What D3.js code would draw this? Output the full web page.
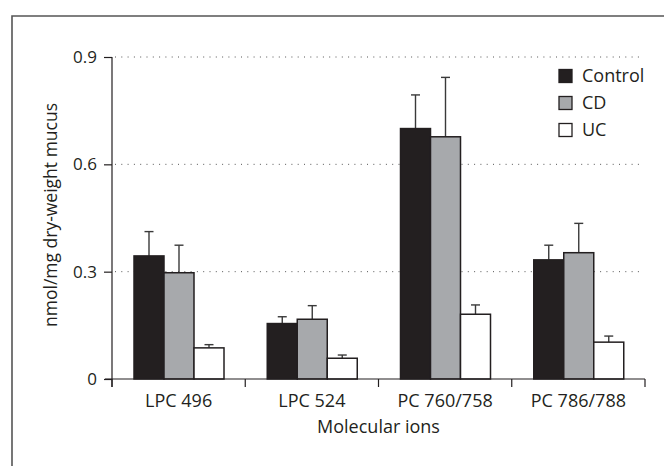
<!DOCTYPE html>
<html>
<head>
<meta charset="utf-8">
<script src="https://cdn.jsdelivr.net/npm/d3@7"></script>
<style>
	body { margin: 0; background: #fff; }
	text { font-family: "Open Sans", sans-serif; fill: #231f20; }
</style>
</head>
<body>
<svg id="chart" width="664" height="466"></svg>
<script>
//Chart data.
var categories = ["LPC 496", "LPC 524", "PC 760/758", "PC 786/788"];
var seriesNames = ["Control", "CD", "UC"];
var controlValues = [0.344, 0.155, 0.700, 0.333];
var controlErrors = [0.068, 0.019, 0.094, 0.041];
var cdValues = [0.297, 0.167, 0.677, 0.353];
var cdErrors = [0.077, 0.038, 0.166, 0.082];
var ucValues = [0.087, 0.058, 0.181, 0.103];
var ucErrors = [0.009, 0.009, 0.026, 0.017];
var yTicks = [0, 0.3, 0.6, 0.9];

var seriesValues = [controlValues, cdValues, ucValues];
var seriesErrors = [controlErrors, cdErrors, ucErrors];
var seriesFill = ["#231f20", "#a7a9ac", "#ffffff"];

var svg = d3.select("#chart");

//Plot area (plotTop, because "top" is taken by window).
var plotLeft = 112, plotRight = 645, plotTop = 57, plotBottom = 379;

var x0 = d3.scaleBand().domain(categories).range([plotLeft, plotRight]);
var x1 = d3.scaleBand().domain(seriesNames).range([22, 112]);
var y = d3.scaleLinear().domain([0, 0.9]).range([plotBottom, plotTop]);

//Outer frame.
svg.append("path")
	.attr("d", "M12,470 L12,16 L670,16")
	.attr("fill", "none")
	.attr("stroke", "#555")
	.attr("stroke-width", 1.6);

//Dotted grid lines.
svg.selectAll(".grid")
	.data(yTicks.filter(function(d){ return d > 0; }))
	.enter()
	.append("line")
	.attr("x1", plotLeft + 3)
	.attr("x2", plotRight - 5)
	.attr("y1", function(d){ return y(d); })
	.attr("y2", function(d){ return y(d); })
	.attr("stroke", "#555")
	.attr("stroke-width", 1)
	.attr("stroke-dasharray", "1,5.3");

//Build flat data for bars.
var bars = [];
categories.forEach(function(c, i){
	seriesNames.forEach(function(s, j){
		bars.push({cat: c, series: s, value: seriesValues[j][i], err: seriesErrors[j][i], fill: seriesFill[j]});
	});
});

function barCenter(d){
	return x0(d.cat) + x1(d.series) + x1.bandwidth()/2;
}

//Error bars (upper half only).
var errG = svg.append("g");
errG.selectAll("line.err")
	.data(bars)
	.enter()
	.append("line")
	.attr("x1", barCenter)
	.attr("x2", barCenter)
	.attr("y1", function(d){ return y(d.value); })
	.attr("y2", function(d){ return y(d.value + d.err); })
	.attr("stroke", "#3a3a3a")
	.attr("stroke-width", 1.4);
errG.selectAll("line.cap")
	.data(bars)
	.enter()
	.append("line")
	.attr("x1", function(d){ return barCenter(d) - 4.5; })
	.attr("x2", function(d){ return barCenter(d) + 4.5; })
	.attr("y1", function(d){ return y(d.value + d.err); })
	.attr("y2", function(d){ return y(d.value + d.err); })
	.attr("stroke", "#3a3a3a")
	.attr("stroke-width", 1.4);

//Bars.
svg.selectAll("rect.bar")
	.data(bars)
	.enter()
	.append("rect")
	.attr("x", function(d){ return x0(d.cat) + x1(d.series); })
	.attr("y", function(d){ return y(d.value); })
	.attr("width", x1.bandwidth())
	.attr("height", function(d){ return y(0) - y(d.value); })
	.attr("fill", function(d){ return d.fill; })
	.attr("stroke", "#231f20")
	.attr("stroke-width", 1.5);

//Y axis.
var yAxis = svg.append("g")
	.attr("transform", "translate(" + plotLeft + ",0)")
	.call(d3.axisLeft(y).tickValues(yTicks).tickSize(8).tickPadding(7)
		.tickFormat(function(d){ return d === 0 ? "0" : d3.format(".1f")(d); }));
yAxis.select(".domain").attr("d", "M0," + plotTop + "V" + (plotBottom + 8)).attr("stroke", "#231f20").attr("stroke-width", 1.2);
yAxis.selectAll(".tick line").attr("stroke", "#231f20").attr("stroke-width", 1.2);
yAxis.selectAll(".tick text").style("font-size", "17px").style("font-family", "Open Sans").attr("fill", "#231f20");

//X axis with boundary ticks.
var xAxis = svg.append("g");
xAxis.append("line")
	.attr("x1", plotLeft - 7).attr("x2", plotRight)
	.attr("y1", plotBottom).attr("y2", plotBottom)
	.attr("stroke", "#231f20").attr("stroke-width", 1.2);
var bounds = categories.map(function(c){ return x0(c); }).concat([plotRight]);
xAxis.selectAll("line.bt")
	.data(bounds)
	.enter()
	.append("line")
	.attr("x1", function(d){ return d; }).attr("x2", function(d){ return d; })
	.attr("y1", plotBottom).attr("y2", plotBottom + 8)
	.attr("stroke", "#231f20").attr("stroke-width", 1.2);
xAxis.selectAll("text.cat")
	.data(categories)
	.enter()
	.append("text")
	.attr("x", function(d){ return x0(d) + x0.bandwidth()/2; })
	.attr("y", 407)
	.attr("text-anchor", "middle")
	.style("font-size", "18px")
	.text(function(d){ return d; });

//Axis titles.
svg.append("text")
	.attr("x", (plotLeft + plotRight)/2)
	.attr("y", 433)
	.attr("text-anchor", "middle")
	.style("font-size", "18px")
	.text("Molecular ions");
svg.append("text")
	.attr("transform", "translate(57,215) rotate(-90)")
	.attr("text-anchor", "middle")
	.style("font-size", "17.5px")
	.text("nmol/mg dry-weight mucus");

//Legend.
var legend = svg.selectAll("g.legend")
	.data(seriesNames)
	.enter()
	.append("g")
	.attr("transform", function(d, i){ return "translate(559," + (69.5 + i*27) + ")"; });
legend.append("rect")
	.attr("width", 13).attr("height", 13)
	.attr("fill", function(d, i){ return seriesFill[i]; })
	.attr("stroke", "#231f20").attr("stroke-width", 1.3);
legend.append("text")
	.attr("x", 23).attr("y", 12.5)
	.style("font-size", "18px")
	.text(function(d){ return d; });
</script>
</body>
</html>
